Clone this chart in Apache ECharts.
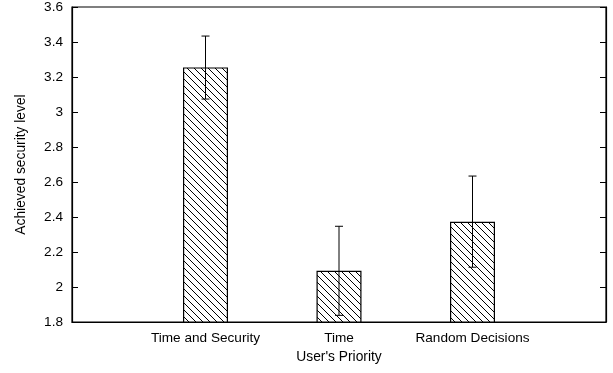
<!DOCTYPE html>
<html>
<head>
<meta charset="utf-8">
<script src="https://cdn.jsdelivr.net/npm/echarts@6/dist/echarts.min.js"></script>
<style>
html,body{margin:0;padding:0;background:#fff;}
#chart{width:613px;height:373px;}
</style>
</head>
<body>
<div id="chart"></div>
<script>
var categories = ['Time and Security', 'Time', 'Random Decisions'];
var categoryPositions = [1, 2, 3];
var values = [3.255, 2.093, 2.373];
var errLow = [3.074, 1.838, 2.113];
var errHigh = [3.434, 2.347, 2.634];
var yTicks = [1.8, 2, 2.2, 2.4, 2.6, 2.8, 3, 3.2, 3.4, 3.6];

function makeHatch() {
  var p = 7;
  var c = document.createElement('canvas');
  c.width = p; c.height = p;
  var ctx = c.getContext('2d');
  ctx.fillStyle = '#fff';
  ctx.fillRect(0, 0, p, p);
  ctx.strokeStyle = '#000';
  ctx.lineWidth = 1;
  ctx.beginPath();
  ctx.moveTo(-1, -1); ctx.lineTo(p + 1, p + 1);
  ctx.moveTo(-1, p - 1); ctx.lineTo(1, p + 1);
  ctx.moveTo(p - 1, -1); ctx.lineTo(p + 1, 1);
  ctx.stroke();
  return c;
}

var chart = echarts.init(document.getElementById('chart'));
var font = 'Liberation Sans, Arial, Helvetica, sans-serif';
var barData = categoryPositions.map(function (x, i) { return [x, values[i]]; });
var errData = categoryPositions.map(function (x, i) { return [x, errLow[i], errHigh[i]]; });

chart.setOption({
  animation: false,
  grid: { left: 72, right: 7, top: 7, bottom: 51, containLabel: false, show: true, borderColor: '#000', borderWidth: 1.2 },
  xAxis: {
    type: 'value', min: 0, max: 4, interval: 1,
    name: "User's Priority", nameLocation: 'middle', nameGap: 27,
    nameTextStyle: { fontFamily: font, fontSize: 13.8, color: '#000' },
    axisLine: { show: true, lineStyle: { color: '#000', width: 1.2 } },
    axisTick: { show: false },
    splitLine: { show: false },
    axisLabel: {
      fontFamily: font, fontSize: 13.6, color: '#000', margin: 9,
      formatter: function (v) {
        var idx = categoryPositions.indexOf(v);
        return idx >= 0 ? categories[idx] : '';
      }
    }
  },
  yAxis: [{
    type: 'value', min: 1.8, max: 3.6, interval: 0.2,
    name: 'Achieved security level', nameLocation: 'middle', nameGap: 44,
    nameTextStyle: { fontFamily: font, fontSize: 13.8, color: '#000' },
    axisLine: { show: true, lineStyle: { color: '#000', width: 1.2 } },
    axisTick: { show: true, inside: true, length: 6, lineStyle: { color: '#000' } },
    splitLine: { show: false },
    axisLabel: {
      fontFamily: font, fontSize: 13.6, color: '#000', margin: 9,
      formatter: function (v) {
        var t = yTicks.find(function (k) { return Math.abs(k - v) < 1e-6; });
        return t === undefined ? '' : String(t);
      }
    }
  }, {
    type: 'value', min: 1.8, max: 3.6, interval: 0.2, position: 'right',
    axisLine: { show: true, lineStyle: { color: '#000', width: 1.2 } },
    axisTick: { show: true, inside: true, length: 6, lineStyle: { color: '#000' } },
    axisLabel: { show: false },
    splitLine: { show: false }
  }],
  series: [{
    type: 'bar',
    data: barData,
    barWidth: 45,
    itemStyle: { color: { image: makeHatch(), repeat: 'repeat' }, borderColor: '#000', borderWidth: 1.2 }
  }, {
    type: 'custom',
    data: errData,
    renderItem: function (params, api) {
      var x = api.value(0);
      var lo = api.coord([x, api.value(1)]);
      var hi = api.coord([x, api.value(2)]);
      var cap = 4;
      return {
        type: 'group',
        children: [
          { type: 'line', shape: { x1: lo[0], y1: lo[1], x2: hi[0], y2: hi[1] }, style: { stroke: '#000', lineWidth: 1 } },
          { type: 'line', shape: { x1: lo[0] - cap, y1: lo[1], x2: lo[0] + cap, y2: lo[1] }, style: { stroke: '#000', lineWidth: 1 } },
          { type: 'line', shape: { x1: hi[0] - cap, y1: hi[1], x2: hi[0] + cap, y2: hi[1] }, style: { stroke: '#000', lineWidth: 1 } }
        ]
      };
    },
    z: 10
  }]
});
</script>
</body>
</html>
